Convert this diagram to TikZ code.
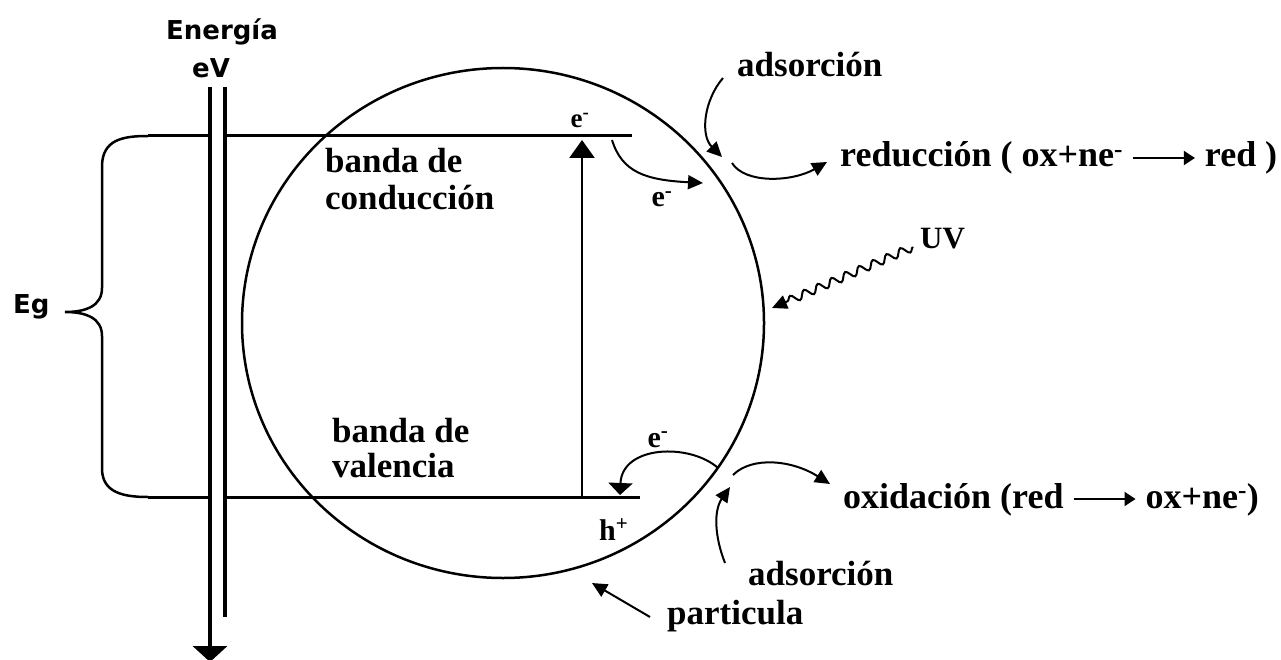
\documentclass[tikz,border=0pt]{standalone}
\usepackage{fontspec}
\setmainfont{Liberation Serif}
\newfontfamily\sansb{DejaVu Sans}
\usetikzlibrary{arrows.meta,decorations.pathmorphing}
\newcommand{\eqarr}{\tikz[baseline=-9pt]\draw[line width=2pt,-{Triangle[length=11pt,width=14pt]}] (0pt,0pt) -- (62pt,0pt);}
\tikzset{
  band/.style={line width=3pt},
  axisline/.style={line width=3.8pt},
  part/.style={line width=2.5pt},
  arr/.style={line width=2pt,-{Triangle[length=15pt,width=14pt]}},
  lbl/.style={font=\fontsize{35}{40}\selectfont\bfseries, inner sep=0pt, anchor=base west},
  eqlbl/.style={font=\fontsize{36}{40}\selectfont\bfseries, inner sep=0pt, anchor=base west},
  sml/.style={font=\fontsize{30}{32}\selectfont\bfseries, inner sep=0pt, anchor=base},
  sanslbl/.style={font=\sansb\bfseries\fontsize{26}{30}\selectfont, inner sep=0pt, anchor=base},
}
\begin{document}
\begin{tikzpicture}[x=1pt,y=-1pt]
\useasboundingbox (0,0) rectangle (1281,660);
% energy axis
\node[sanslbl] (energia) at (222,40) {Energía};
\node[sanslbl] (ev) at (211,78) {eV};
\coordinate (axtop) at (210,87);
\coordinate (axbot) at (210,662);
\draw[axisline,-{Triangle[width=34pt,length=16pt]}] (axtop) -- (axbot);
\draw[axisline] (225,87) -- (225,617);
% bands
\draw[band] (148,136) -- (210,136);
\draw[band] (225,136) -- (632,136);
\draw[band] (148,497) -- (210,497);
\draw[band] (225,497) -- (640,497);
% brace
\draw[part] (148,136) .. controls (122,136) and (103,140) .. (102,165) -- (102,288)
  .. controls (102,306) and (86,312) .. (65,312)
  .. controls (86,312) and (102,318) .. (102,336) -- (102,470)
  .. controls (103,492) and (122,497) .. (148,497);
\node[sanslbl,anchor=base west] (eg) at (13,313) {Eg};
% particle
\draw[part] (503,323) ellipse [x radius=261, y radius=255];
% labels inside
\node[lbl] (bc1) at (325,173) {banda de};
\node[lbl] (bc2) at (325,210) {conducción};
\node[lbl] (bv1) at (332,442) {banda de};
\node[lbl] (bv2) at (332,477) {valencia};
% excitation
\coordinate (exlow) at (582,497);
\coordinate (exhigh) at (582,140);
\draw[line width=2.5pt,-{Triangle[width=25pt,length=18pt]}] (exlow) -- (exhigh);
\node[sml,font=\fontsize{27}{30}\selectfont\bfseries] (etop) at (580,128) {e\textsuperscript{-}};
% electron to surface
\coordinate (e1s) at (612,140);
\coordinate (e1t) at (703,183);
\draw[arr] (e1s) .. controls (622,172) and (645,180) .. (e1t);
\node[sml] (e1) at (662,207) {e\textsuperscript{-}};
% adsorption top
\coordinate (ad1s) at (723,78);
\coordinate (ad1t) at (722,157);
\draw[arr] (ad1s) .. controls (704,100) and (700,135) .. (ad1t);
\node[lbl] (ads1) at (737,77) {adsorción};
% reduction
\coordinate (r1s) at (732,163);
\coordinate (r1t) at (827,162);
\draw[arr] (r1s) .. controls (745,184) and (792,182) .. (r1t);
\node[eqlbl] (red) at (840,167) {reducción ( ox+ne\textsuperscript{-} \eqarr\ red )};
% UV
\node[lbl,font=\fontsize{31}{34}\selectfont\bfseries] (uv) at (920,248) {UV};
\coordinate (uvs) at (913,247);
\coordinate (uvt) at (772,308);
\draw[line width=2pt,decorate,decoration={snake,amplitude=4pt,segment length=15pt,post length=14pt},-{Triangle[length=15pt,width=14pt]}] (uvs) -- (uvt);
% hole and electron from valence band
\node[sml,anchor=base west] (h) at (599,540) {h\textsuperscript{+}};
\coordinate (e2s) at (718,468);
\coordinate (e2t) at (620,495);
\draw[line width=2pt,-{Triangle[length=12pt,width=24pt]}] (e2s) .. controls (690,443) and (622,445) .. (e2t);
\node[sml] (e2) at (658,447) {e\textsuperscript{-}};
% oxidation
\coordinate (o1s) at (733,475);
\coordinate (o1t) at (830,484);
\draw[arr] (o1s) .. controls (752,456) and (792,460) .. (o1t);
\node[eqlbl] (ox) at (843,508) {oxidación (red \eqarr\ ox+ne\textsuperscript{-})};
% adsorption bottom
\coordinate (ad2s) at (725,563);
\coordinate (ad2t) at (730,487);
\draw[arr] (ad2s) .. controls (714,535) and (714,510) .. (ad2t);
\node[lbl] (ads2) at (748,585) {adsorción};
% particle label
\coordinate (pts) at (650,617);
\coordinate (ptt) at (592,583);
\draw[arr] (pts) -- (ptt);
\node[lbl] (part) at (667,624) {particula};
\end{tikzpicture}
\end{document}
